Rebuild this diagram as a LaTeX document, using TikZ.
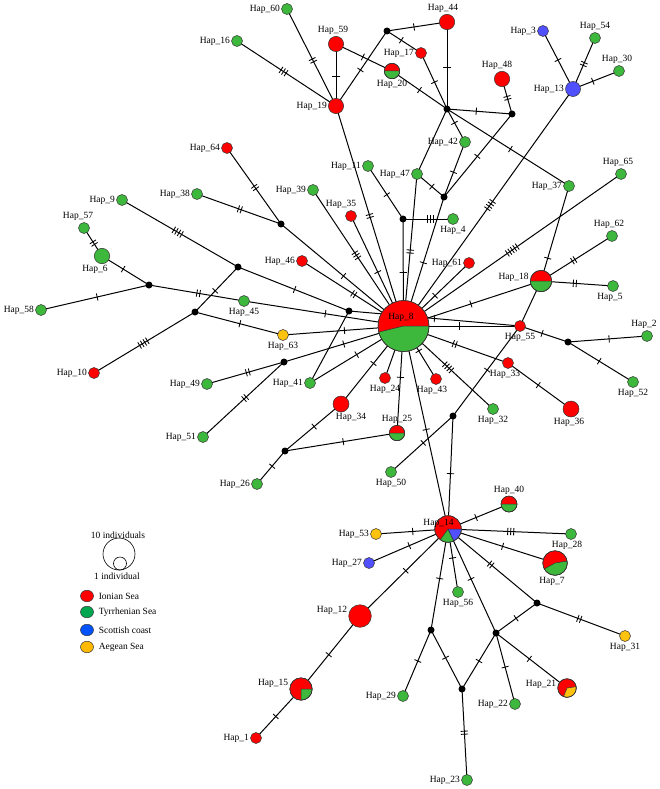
\documentclass[tikz,border=0pt]{standalone}
\usepackage{fontspec}
\setmainfont{Liberation Serif}
\usetikzlibrary{decorations.markings,shapes.geometric}
\pgfdeclarelayer{bg}
\pgfsetlayers{bg,main}
\definecolor{cr}{HTML}{FF0000}
\definecolor{cg}{HTML}{3DB83D}
\definecolor{cb}{HTML}{5050FF}
\definecolor{cy}{HTML}{FFC20E}
\definecolor{olin}{HTML}{333333}
\definecolor{lr}{HTML}{FF0000}
\definecolor{lg}{HTML}{00A650}
\definecolor{lb}{HTML}{0052FF}
\definecolor{ly}{HTML}{FFB900}
\tikzset{
  hap/.style={circle,draw=olin,line width=0.5pt,inner sep=0pt,minimum size={2*#1pt}},
  hap/.default=5.5,
  jn/.style={circle,fill=black,inner sep=0pt,minimum size=7pt},
  lab/.style={font=\fontsize{9.5}{11}\selectfont,inner sep=0.6pt},
  every label/.style={lab},
  label distance=0.6pt,
  ln/.style={line width=1pt,black},
  legdot/.style={ellipse,draw=olin,line width=0.5pt,inner sep=0pt,minimum width=13pt,minimum height=11.5pt},
  mk/.style 2 args={postaction={decorate,decoration={markings,mark=at position #2 with {\foreach \k in {1,...,#1}{\draw[line width=0.85pt] ({(\k-(#1+1)/2)*3pt},-3.6pt) -- ++(0pt,7.2pt);}}}}},
}
\newcommand\ed[4]{\draw[ln,mk={#3}{#4}] (#1.center) -- (#2.center);}
\newcommand\ez[2]{\draw[ln] (#1.center) -- (#2.center);}
\newcommand\pseg[5]{\filldraw[fill=#5,draw=olin,line width=0.5pt] (#1.center) -- ++(#3:#2pt) arc[start angle=#3,end angle=#4,radius=#2pt] -- cycle;}
\newcommand\pout[2]{\draw[olin,line width=0.5pt] (#1.center) circle[radius=#2pt];}
\begin{document}
\begin{tikzpicture}[x=1pt,y=-1pt]
\useasboundingbox (0,0) rectangle (660,789);
% junctions
\node[jn] (j1) at (387,31) {};
\node[jn] (j2) at (447,109) {};
\node[jn] (j3) at (512,114) {};
\node[jn] (j4) at (444,197) {};
\node[jn] (j5) at (149,285) {};
\node[jn] (j6) at (281,224) {};
\node[jn] (j7) at (238,267) {};
\node[jn] (j8) at (195,312) {};
\node[jn] (j9) at (403,219) {};
\node[jn] (j10) at (568,342) {};
\node[jn] (j11) at (453,416) {};
\node[jn] (j12) at (431,630) {};
\node[jn] (j13) at (496,633) {};
\node[jn] (j14) at (537,603) {};
\node[jn] (j15) at (462,689) {};
\node[jn] (j16) at (284,362) {};
\node[jn] (j17) at (285,451) {};
\node[jn] (j18) at (349,311) {};
% haplotypes
\node[hap,fill=cg,label=left:Hap\_60] (h60) at (287,9) {};
\node[hap,fill=cg,label=left:Hap\_16] (h16) at (237,41) {};
\node[hap=7.6,fill=cr,label=left:Hap\_19] (h19) at (336,106) {};
\node[hap=7.6,fill=cr,label={[xshift=-3pt]above:Hap\_59}] (h59) at (336,44) {};
\node[hap=7.7,fill=cr,label={[xshift=-4pt]above:Hap\_44}] (h44) at (447,22) {};
\node[hap,fill=cr,label=left:Hap\_17] (h17) at (421,53) {};
\node[hap=7.7,fill=cr,label=below:Hap\_20] (h20) at (392,71) {};
\pseg{h20}{7.7}{180}{360}{cg}\pout{h20}{7.7}
\node[hap=7.7,fill=cr,label={[xshift=-5pt]above:Hap\_48}] (h48) at (502,79) {};
\node[hap,fill=cb,label=left:Hap\_3] (h3) at (543,31) {};
\node[hap,fill=cg,label=above:Hap\_54] (h54) at (595,38) {};
\node[hap,fill=cg,label={[xshift=-2pt]above:Hap\_30}] (h30) at (619,71) {};
\node[hap=7.5,fill=cb,label=left:Hap\_13] (h13) at (573,89) {};
\node[hap,fill=cg,label=left:Hap\_42] (h42) at (465,142) {};
\node[hap,fill=cg,label=left:Hap\_11] (h11) at (368,166) {};
\node[hap,fill=cg,label=left:Hap\_47] (h47) at (417,174) {};
\node[hap,fill=cg,label=left:Hap\_37] (h37) at (569,186) {};
\node[hap,fill=cg,label={[xshift=-3pt]above:Hap\_65}] (h65) at (621,174) {};
\node[hap,fill=cr,label=left:Hap\_64] (h64) at (227,148) {};
\node[hap,fill=cg,label=left:Hap\_38] (h38) at (197,194) {};
\node[hap,fill=cg,label=left:Hap\_39] (h39) at (313,190) {};
\node[hap,fill=cg,label=left:Hap\_9] (h9) at (122,200) {};
\node[hap,fill=cg,label={[xshift=-6pt]above:Hap\_57}] (h57) at (84,228) {};
\node[hap=7.7,fill=cg,label={[xshift=-7pt]below:Hap\_6}] (h6) at (102,256) {};
\node[hap,fill=cg,label=left:Hap\_58] (h58) at (41,310) {};
\node[hap,fill=cr,label=left:Hap\_46] (h46) at (302,261) {};
\node[hap,fill=cg,label=below:Hap\_45] (h45) at (244,301) {};
\node[hap,fill=cy,label=below:Hap\_63] (h63) at (283,335) {};
\node[hap,fill=cr,label={[xshift=-10pt]above:Hap\_35}] (h35) at (351,216) {};
\node[hap,fill=cg,label=below:Hap\_4] (h4) at (453,219) {};
\node[hap,fill=cr,label=left:Hap\_61] (h61) at (469,263) {};
\node[hap=10.7,fill=cr,label={[yshift=4pt]left:Hap\_18}] (h18) at (541,281) {};
\pseg{h18}{10.7}{180}{360}{cg}\pout{h18}{10.7}
\node[hap,fill=cg,label={[xshift=-3pt]above:Hap\_62}] (h62) at (612,236) {};
\node[hap,fill=cg,label={[xshift=-3pt]below:Hap\_5}] (h5) at (613,286) {};
\node[hap,fill=cr,label=below:Hap\_55] (h55) at (520,326) {};
\node[hap,fill=cg,label={[xshift=-3pt]above:Hap\_2}] (h2) at (647,336) {};
\node[hap,fill=cg,label=below:Hap\_52] (h52) at (633,382) {};
\node[hap,fill=cr,label=below:Hap\_24] (h24) at (385,378) {};
\node[hap,fill=cr,label={[xshift=-4pt]below:Hap\_43}] (h43) at (436,379) {};
\node[hap=8,fill=cr,label={[xshift=10pt]below:Hap\_34}] (h34) at (341,404) {};
\node[hap,fill=cr,label={[xshift=-3pt]below:Hap\_33}] (h33) at (508,363) {};
\node[hap,fill=cg,label=below:Hap\_32] (h32) at (493,409) {};
\node[hap=8,fill=cr,label={[xshift=-2pt]below:Hap\_36}] (h36) at (571,409) {};
\node[hap=7.7,fill=cr,label=above:Hap\_25] (h25) at (397,433) {};
\pseg{h25}{7.7}{180}{360}{cg}\pout{h25}{7.7}
\node[hap,fill=cg,label=below:Hap\_50] (h50) at (391,472) {};
\node[hap=8,fill=cr,label=above:Hap\_40] (h40) at (509,504) {};
\pseg{h40}{8}{180}{360}{cg}\pout{h40}{8}
\node[hap=13.3,fill=cr] (h14) at (448,529) {};
\pseg{h14}{13.3}{234}{296}{cg}\pseg{h14}{13.3}{296}{360}{cb}\pout{h14}{13.3}
\node[lab] (h14t) at (438.5,523) {Hap\_14};
\node[hap,fill=cy,label=left:Hap\_53] (h53) at (376,534) {};
\node[hap,fill=cb,label=left:Hap\_27] (h27) at (369,563) {};
\node[hap,fill=cg,label={[xshift=-4pt]below:Hap\_28}] (h28) at (571,534) {};
\node[hap=12.3,fill=cr,label={[xshift=-3pt]below:Hap\_7}] (h7) at (555,563) {};
\pseg{h7}{12.3}{209}{369}{cg}\pout{h7}{12.3}
\node[hap,fill=cg,label=below:Hap\_56] (h56) at (458,592) {};
\node[hap=11.3,fill=cr,label={[yshift=6pt]left:Hap\_12}] (h12) at (360,616) {};
\node[hap,fill=cy,label=below:Hap\_31] (h31) at (625,636) {};
\node[hap=11.2,fill=cr,label={[yshift=6pt]left:Hap\_15}] (h15) at (301,689) {};
\pseg{h15}{11.2}{270}{360}{cg}\pout{h15}{11.2}
\node[hap,fill=cr,label=left:Hap\_1] (h1) at (256,738) {};
\node[hap,fill=cg,label=left:Hap\_29] (h29) at (403,696) {};
\node[hap,fill=cg,label=left:Hap\_22] (h22) at (515,704) {};
\node[hap,fill=cg,label=left:Hap\_23] (h23) at (467,780) {};
\node[hap=9.3,fill=cr,label={[yshift=4pt]left:Hap\_21}] (h21) at (567,688) {};
\pseg{h21}{9.3}{248}{368}{cy}\pout{h21}{9.3}
\node[hap,fill=cr,label=left:Hap\_10] (h10) at (94,373) {};
\node[hap,fill=cg,label=left:Hap\_49] (h49) at (207,384) {};
\node[hap,fill=cg,label=left:Hap\_41] (h41) at (310,383) {};
\node[hap,fill=cg,label=left:Hap\_51] (h51) at (203,437) {};
\node[hap,fill=cg,label=left:Hap\_26] (h26) at (257,484) {};
\node[hap=25.5,fill=cr] (h8) at (403.5,326) {};
\pseg{h8}{25.5}{194}{360}{cg}\pout{h8}{25.5}
\node[lab] (h8t) at (401,317) {Hap\_8};
% legend
\node[lab] (t10) at (118,535) {10 individuals};
\node[circle,draw=black,line width=0.6pt,inner sep=0pt,minimum size=32pt] (c10) at (119,554) {};
\node[circle,draw=black,line width=0.6pt,inner sep=0pt,minimum size=13pt] (c1) at (120,563.5) {};
\node[lab] (t1) at (117,576) {1 individual};
\node[legdot,fill=lr] (dr) at (87,596) {};
\node[legdot,fill=lg] (dg) at (87,612) {};
\node[legdot,fill=lb] (db) at (87,630) {};
\node[legdot,fill=ly] (dy) at (87,647) {};
\node[lab,anchor=west] (tr) at (98,596) {Ionian Sea};
\node[lab,anchor=west] (tg) at (98,612) {Tyrrhenian Sea};
\node[lab,anchor=west] (tb) at (98,630) {Scottish coast};
\node[lab,anchor=west] (ty) at (98,647) {Aegean Sea};
% edges
\begin{pgfonlayer}{bg}
\ed{h60}{h19}{2}{0.53}
\ed{h16}{h19}{3}{0.47}
\ed{h59}{h19}{1}{0.53}
\ed{h19}{j1}{1}{0.48}
\ed{h59}{h20}{1}{0.48}
\ed{j1}{h44}{1}{0.45}
\ed{j1}{h17}{1}{0.42}
\ed{h44}{j2}{1}{0.52}
\ed{h17}{j2}{1}{0.52}
\ed{h20}{j2}{1}{0.5}
\ed{j2}{j3}{1}{0.45}
\ed{j3}{h48}{2}{0.46}
\ed{j2}{h42}{1}{0.42}
\ez{j2}{h47}
\ed{j2}{h37}{1}{0.52}
\ed{h42}{j4}{1}{0.55}
\ed{j3}{j4}{1}{0.51}
\ed{h47}{j4}{1}{0.55}
\ed{h3}{h13}{1}{0.5}
\ed{h54}{h13}{2}{0.51}
\ed{h30}{h13}{1}{0.57}
\ed{h13}{h8}{4}{0.49}
\ed{h37}{h18}{1}{0.76}
\ed{h65}{h8}{5}{0.5}
\ed{h62}{h18}{2}{0.54}
\ed{h5}{h18}{2}{0.53}
\ed{h18}{h8}{1}{0.51}
\ez{h18}{h55}
\ed{h8}{h55}{1}{0.48}
\ed{j18}{h55}{1}{0.5}
\ed{h55}{j10}{1}{0.46}
\ed{j10}{h2}{1}{0.52}
\ed{j10}{h52}{1}{0.48}
\ed{h55}{j11}{1}{0.49}
\ed{h8}{h33}{2}{0.49}
\ed{h33}{h36}{1}{0.48}
\ed{h8}{h32}{4}{0.5}
\ed{h8}{h43}{1}{0.47}
\ez{h8}{h24}
\ed{h8}{h25}{1}{0.48}
\ed{h8}{h14}{1}{0.51}
\ed{j11}{h50}{1}{0.48}
\ed{j11}{h14}{1}{0.51}
\ed{h8}{h34}{1}{0.48}
\ed{h25}{j17}{1}{0.48}
\ed{h34}{j17}{1}{0.48}
\ed{j17}{h26}{1}{0.46}
\ed{h14}{h40}{1}{0.46}
\ed{h14}{h53}{1}{0.49}
\ed{h14}{h27}{1}{0.49}
\ed{h14}{h28}{3}{0.51}
\ed{h14}{h7}{1}{0.51}
\ed{h14}{h56}{1}{0.46}
\ed{h14}{h12}{1}{0.48}
\ed{h14}{j12}{1}{0.49}
\ed{h14}{j13}{1}{0.48}
\ed{h14}{j14}{2}{0.48}
\ed{j14}{j13}{1}{0.51}
\ed{j14}{h31}{2}{0.48}
\ed{j13}{h22}{1}{0.48}
\ed{j13}{h21}{1}{0.47}
\ed{j13}{j15}{1}{0.5}
\ed{j12}{j15}{1}{0.47}
\ed{j12}{h29}{1}{0.47}
\ed{j15}{h23}{2}{0.48}
\ed{h12}{h15}{1}{0.53}
\ed{h15}{h1}{1}{0.56}
\ed{h64}{j6}{2}{0.52}
\ed{h38}{j6}{2}{0.51}
\ed{j6}{h8}{1}{0.51}
\ed{h39}{h8}{3}{0.48}
\ed{h35}{h8}{1}{0.51}
\ed{h19}{h8}{2}{0.5}
\ed{h46}{h8}{2}{0.51}
\ed{h11}{j9}{1}{0.54}
\ed{j9}{h4}{3}{0.54}
\ed{j9}{h8}{1}{0.5}
\ed{h47}{h8}{2}{0.51}
\ed{j4}{h8}{1}{0.51}
\ed{h61}{h8}{1}{0.52}
\ed{j7}{j18}{1}{0.51}
\ed{h45}{h8}{1}{0.51}
\ez{j18}{h41}
\ed{h41}{h8}{1}{0.5}
\ed{h63}{h8}{1}{0.51}
\ed{j8}{h63}{1}{0.51}
\ed{j16}{h8}{1}{0.5}
\ed{h49}{j16}{2}{0.53}
\ed{h51}{j16}{2}{0.52}
\ed{h10}{j8}{4}{0.49}
\ed{h9}{j7}{4}{0.48}
\ed{h6}{j5}{1}{0.45}
\ed{h57}{h6}{2}{0.54}
\ed{h58}{j5}{1}{0.52}
\ed{j5}{h45}{2}{0.52}
\ed{j8}{j7}{1}{0.47}
\end{pgfonlayer}
\end{tikzpicture}
\end{document}
